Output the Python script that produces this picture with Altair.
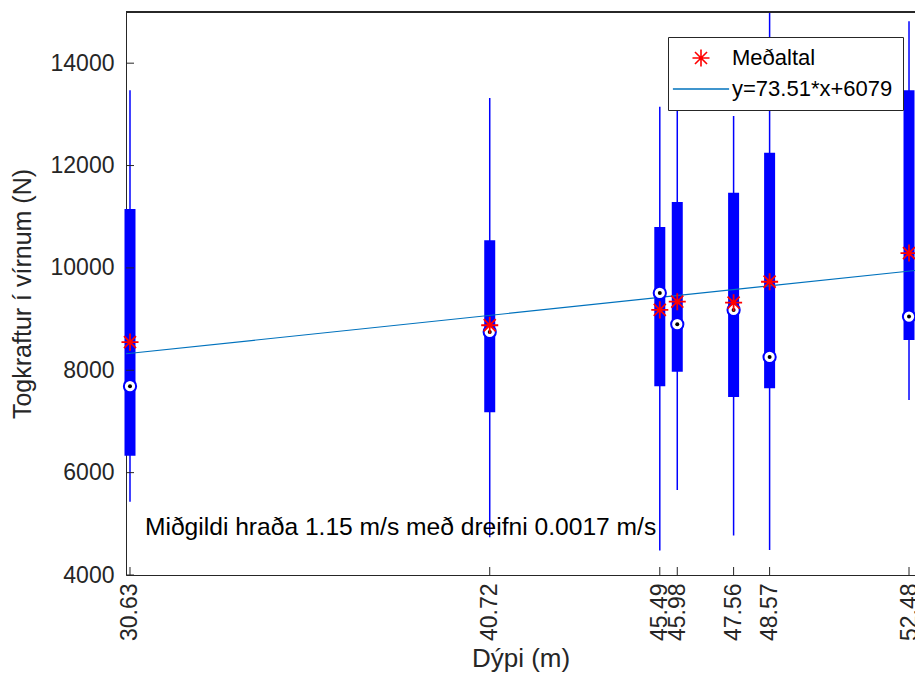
import altair as alt
import numpy as np
import pandas as pd

# ---- data ----
depths = [30.63, 40.72, 45.49, 45.98, 47.56, 48.57, 52.48]
whisker_low = [5430, 4740, 4480, 5660, 4770, 4490, 7420]
q1 = [6330, 7180, 7690, 7970, 7480, 7650, 8590]
medians = [7690, 8750, 9510, 8900, 9180, 8260, 9050]
q3 = [11150, 10540, 10800, 11290, 11470, 12250, 13470]
whisker_high = [13470, 13320, 13150, 13700, 12970, 15600, 14820]
means = [8550, 8880, 9180, 9340, 9320, 9730, 10290]

slope = 73.51
intercept = 6079

x_domain = [30.518, 52.648]
y_domain = [4000, 15000]
y_ticks = [4000, 6000, 8000, 10000, 12000, 14000]

mean_label = "Meðaltal"
fit_label = "y=73.51*x+6079"
note_text = ["Miðgildi hraða 1.15 m/s með dreifni 0.0017 m/s"]
note_x = [31.05]
note_y = [4920]
x_title = "Dýpi (m)"
y_title = "Togkraftur í vírnum (N)"

# ---- styling ----
W, H = 789, 563
BLUE = "#0000ff"
FIT = "#0072bd"
AX = "#262626"
FONT = "Liberation Sans"
STAR = "M-1,0L1,0M0,-1L0,1M-0.7071,-0.7071L0.7071,0.7071M-0.7071,0.7071L0.7071,-0.7071"
LEG_LINE = "M-3.3,0L3.3,0"

df = pd.DataFrame({
    "depth": depths, "lo": whisker_low, "q1": q1, "med": medians,
    "q3": q3, "hi": whisker_high, "mean": means, "series": mean_label,
})
fit_x = np.array(x_domain)
fit_df = pd.DataFrame({"depth": fit_x, "val": slope * fit_x + intercept})
note_df = pd.DataFrame({"depth": note_x, "val": note_y, "text": note_text})
ytick_df = pd.DataFrame({"val": y_ticks})
xtick_df = pd.DataFrame({"depth": depths})

xscale = alt.Scale(domain=x_domain, nice=False, zero=False)
yscale = alt.Scale(domain=y_domain, nice=False, zero=False)
xaxis = alt.Axis(values=depths, format=".2f", labelAngle=270, title=x_title,
                 labelOverlap=False, labelBound=False, labelFlush=False,
                 ticks=False, labelPadding=8, titlePadding=5, titleFontSize=26,
                 grid=False)
yaxis = alt.Axis(values=y_ticks, format="d", title=y_title, ticks=False,
                 labelPadding=12, titlePadding=15, grid=False,
                 labelOverlap=False, labelBound=False, labelFlush=False)


def X(field="depth"):
    return alt.X(f"{field}:Q", scale=xscale, axis=xaxis)


def Y(field):
    return alt.Y(f"{field}:Q", scale=yscale, axis=yaxis)


base = alt.Chart(df)

whiskers = base.mark_rule(color=BLUE, strokeWidth=1.5, clip=True).encode(
    x=X(), y=Y("lo"), y2="hi:Q")
boxes = base.mark_rule(color=BLUE, strokeWidth=11, strokeCap="butt").encode(
    x=X(), y=Y("q1"), y2="q3:Q")
fit = alt.Chart(fit_df).mark_line(color=FIT, strokeWidth=1.2, clip=True).encode(
    x=X(), y=Y("val"))
med_circle = base.mark_point(shape="circle", filled=True, fill="white", stroke=BLUE,
                             strokeWidth=2, size=150, opacity=1).encode(x=X(), y=Y("med"))
med_dot = base.mark_point(shape="circle", filled=True, color="black", size=16,
                          opacity=1).encode(x=X(), y=Y("med"))

leg_domain = [mean_label, fit_label]
mean_pts = base.mark_point(filled=False, strokeWidth=1.8, size=290, opacity=1).encode(
    x=X(), y=Y("mean"),
    color=alt.Color("series:N", scale=alt.Scale(domain=leg_domain, range=["#ff0000", FIT]),
                    legend=alt.Legend(title=None, orient="none", legendX=542, legendY=25,
                                      fillColor="white", strokeColor=AX, padding=10,
                                      labelFont=FONT, labelFontSize=22, labelColor="black",
                                      labelLimit=400,
                                      symbolSize=290, symbolOffset=12, labelOffset=20,
                                      rowPadding=8, symbolStrokeWidth=1.6)),
    shape=alt.Shape("series:N", scale=alt.Scale(domain=leg_domain, range=[STAR, LEG_LINE])),
)

note = alt.Chart(note_df).mark_text(align="left", baseline="middle", font=FONT,
                                    fontSize=24.6, color="black").encode(
    x=X(), y=Y("val"), text="text:N")

yticks = alt.Chart(ytick_df).mark_rule(color=AX, strokeWidth=1).encode(
    y=Y("val"), x=alt.value(0), x2=alt.value(8))
xticks = alt.Chart(xtick_df).mark_rule(color=AX, strokeWidth=1).encode(
    x=X(), y=alt.value(H), y2=alt.value(H - 8))
top_border = alt.Chart(xtick_df).mark_rule(color=AX, strokeWidth=1).encode(
    y=alt.value(0), x=alt.value(0), x2=alt.value(W))

chart = alt.layer(whiskers, boxes, fit, med_circle, med_dot, mean_pts, note,
                  yticks, xticks, top_border).properties(
    width=W, height=H,
    autosize=alt.AutoSizeParams(type="none"),
    padding={"left": 118, "top": 4, "right": 0, "bottom": 98},
    background="white",
).configure_view(stroke=None).configure_axis(
    labelFont=FONT, labelFontSize=23, labelColor=AX,
    titleFont=FONT, titleFontSize=25, titleColor=AX, titleFontWeight="normal",
    domainColor=AX, domainWidth=1,
)

chart.save("out.html", embed_options={"renderer": "svg", "actions": False})
